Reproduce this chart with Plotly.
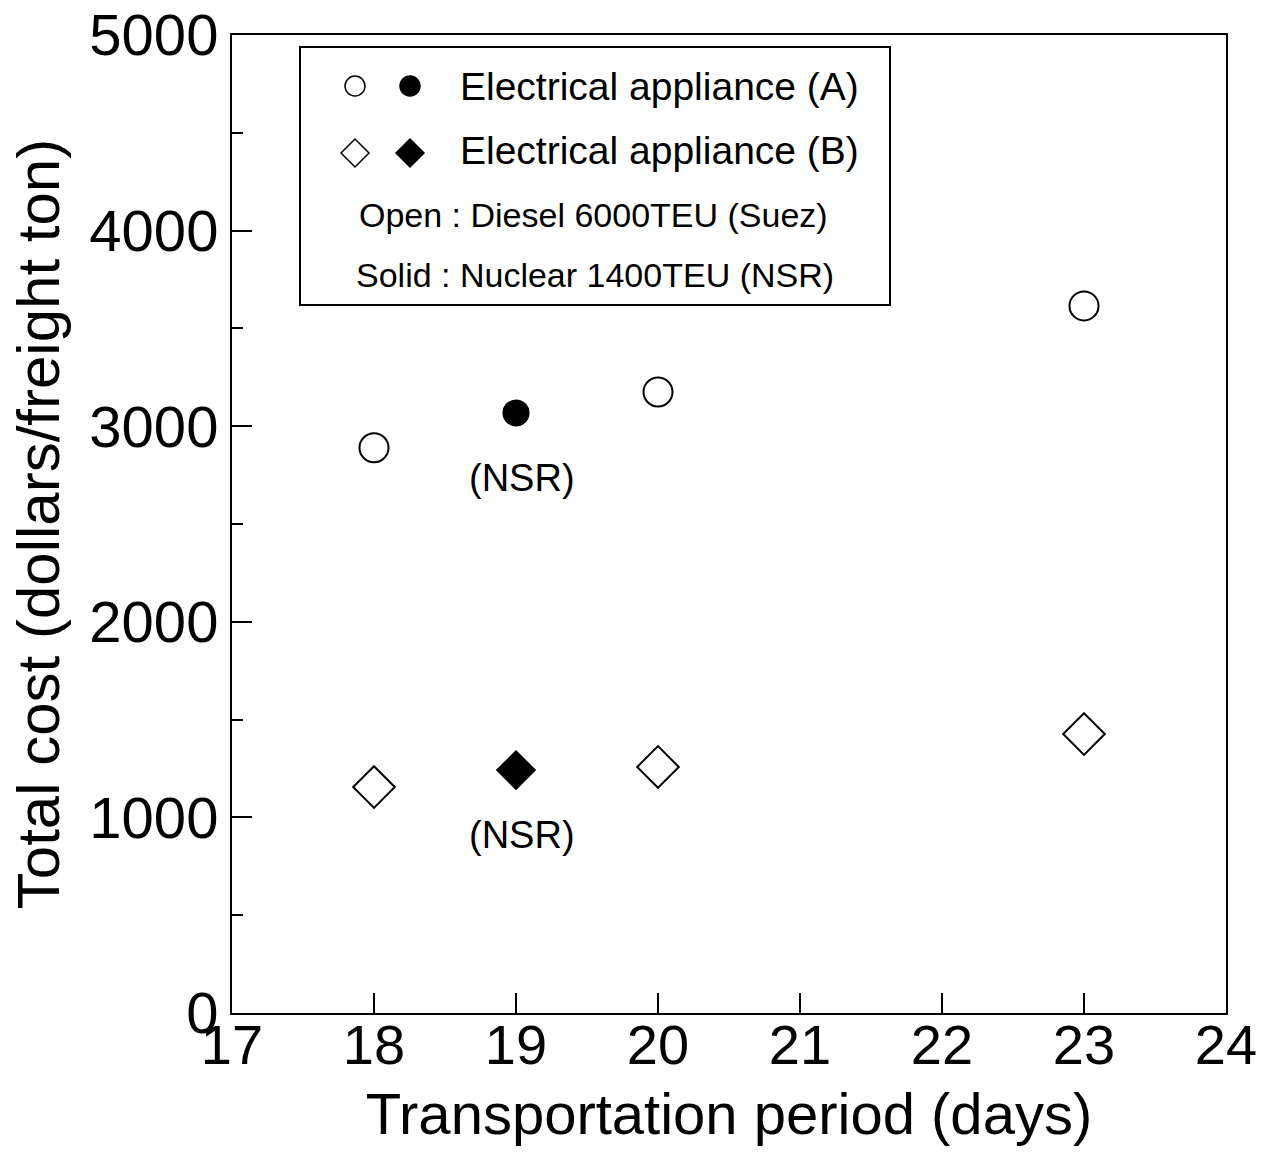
import plotly.graph_objects as go

# Data
a_open_x = [18, 20, 23]
a_open_y = [2890, 3175, 3615]
a_solid_x = [19]
a_solid_y = [3068]
b_open_x = [18, 20, 23]
b_open_y = [1155, 1258, 1426]
b_solid_x = [19]
b_solid_y = [1242]

x_ticks = [17, 18, 19, 20, 21, 22, 23, 24]
y_ticks = [0, 1000, 2000, 3000, 4000, 5000]

FONT = "Liberation Sans, Arial, sans-serif"

fig = go.Figure()
fig.add_trace(go.Scatter(x=a_open_x, y=a_open_y, mode="markers",
                         marker=dict(symbol="circle-open", size=29, color="black", line=dict(width=2))))
fig.add_trace(go.Scatter(x=a_solid_x, y=a_solid_y, mode="markers",
                         marker=dict(symbol="circle", size=27, color="black")))
fig.add_trace(go.Scatter(x=b_open_x, y=b_open_y, mode="markers",
                         marker=dict(symbol="diamond-open", size=32, color="black", line=dict(width=2))))
fig.add_trace(go.Scatter(x=b_solid_x, y=b_solid_y, mode="markers",
                         marker=dict(symbol="diamond", size=31, color="black")))

annotations = []
for xv, yv in [(a_solid_x[0], a_solid_y[0]), (b_solid_x[0], b_solid_y[0])]:
    annotations.append(dict(x=xv, y=yv, xref="x", yref="y", text="(NSR)", showarrow=False,
                            yshift=-65, xshift=6, font=dict(size=38, family=FONT, color="black")))

def px2paper(px, py):
    return (px - 232) / 994, (1013 - py) / 978

legend_rows = [
    ("Electrical appliance (A)", 458, 86, 39, "left"),
    ("Electrical appliance (B)", 458, 150, 39, "left"),
    ("Open : Diesel 6000TEU (Suez)", 593, 215, 34, "center"),
    ("Solid : Nuclear 1400TEU (NSR)", 595, 275, 34, "center"),
]
for text, px, py, fs, align in legend_rows:
    xp, yp = px2paper(px, py)
    annotations.append(dict(x=xp, y=yp, xref="paper", yref="paper", text=text, showarrow=False,
                            xanchor=align, yanchor="middle", font=dict(size=fs, family=FONT, color="black")))

shapes = []
bx0, by0 = px2paper(300, 305)
bx1, by1 = px2paper(890, 47)
shapes.append(dict(type="rect", xref="paper", yref="paper", x0=bx0, y0=by0, x1=bx1, y1=by1,
                   line=dict(color="black", width=2), fillcolor="white", layer="above"))

def circle_shape(px, py, r, filled):
    xp, yp = px2paper(px, py)
    return dict(type="circle", xref="paper", yref="paper", xsizemode="pixel", ysizemode="pixel",
                xanchor=xp, yanchor=yp, x0=-r, x1=r, y0=-r, y1=r,
                line=dict(color="black", width=1.5), fillcolor="black" if filled else "white")

def diamond_shape(px, py, r, filled):
    xp, yp = px2paper(px, py)
    path = f"M {-r},0 L 0,{r} L {r},0 L 0,{-r} Z"
    return dict(type="path", xref="paper", yref="paper", xsizemode="pixel", ysizemode="pixel",
                xanchor=xp, yanchor=yp, path=path,
                line=dict(color="black", width=1.5), fillcolor="black" if filled else "white")

shapes += [circle_shape(355, 86, 10, False), circle_shape(410, 86, 10, True),
           diamond_shape(355, 153, 14, False), diamond_shape(410, 153, 14, True)]

fig.update_layout(
    width=1262, height=1155,
    margin=dict(l=232, r=36, t=35, b=142, autoexpand=False),
    paper_bgcolor="white", plot_bgcolor="white",
    showlegend=False,
    font=dict(family=FONT, color="black"),
    annotations=annotations,
    shapes=shapes,
    xaxis=dict(range=[17, 24], tickvals=x_ticks, ticktext=[str(v) for v in x_ticks],
               ticks="inside", ticklen=20, tickwidth=1.5, tickcolor="black",
               showline=True, linecolor="black", linewidth=2, mirror=True,
               showgrid=False, zeroline=False, ticklabelstandoff=-18, automargin=False,
               tickfont=dict(size=56, family=FONT),
               title=dict(text="Transportation period (days)", font=dict(size=58, family=FONT), standoff=18)),
    yaxis=dict(range=[0, 5000], tickvals=y_ticks, ticktext=[str(v) for v in y_ticks],
               ticks="inside", ticklen=20, tickwidth=1.5, tickcolor="black",
               minor=dict(dtick=500, ticks="inside", ticklen=11, tickwidth=1.5, tickcolor="black"),
               showline=True, linecolor="black", linewidth=2, mirror=True,
               showgrid=False, zeroline=False, automargin=False,
               tickfont=dict(size=58, family=FONT),
               title=dict(text="Total cost (dollars/freight ton)", font=dict(size=60, family=FONT), standoff=10)),
)

fig.write_html("out.html")
